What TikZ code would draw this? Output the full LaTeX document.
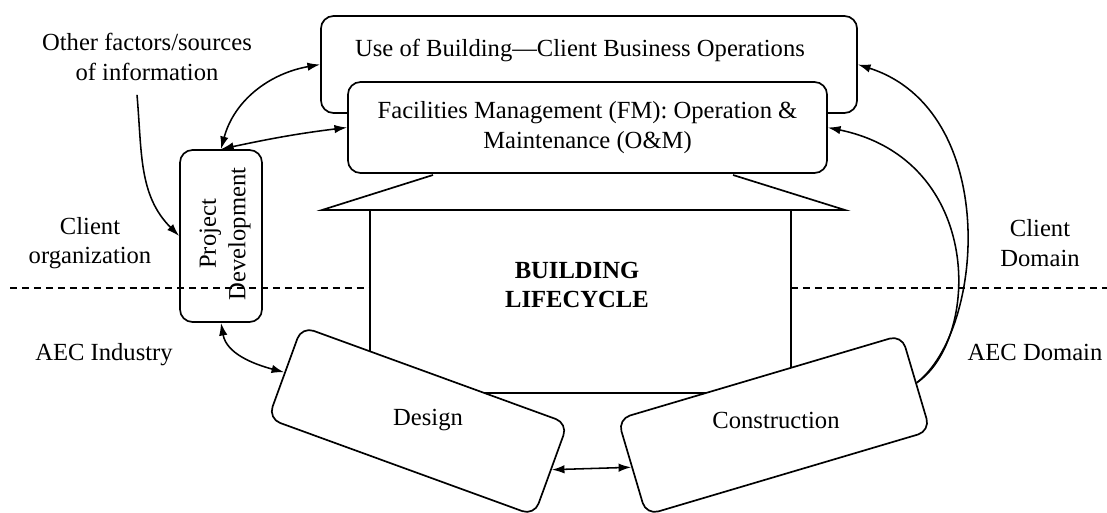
\documentclass[tikz,border=0pt]{standalone}
\usepackage{fontspec}
\setmainfont{Liberation Serif}
\usetikzlibrary{arrows.meta}

\begin{document}
\begin{tikzpicture}[x=0.025cm, y=0.025cm,
  box/.style={draw, line width=1.2pt, rounded corners=9pt, fill=white, inner sep=0pt},
  txt/.style={font=\fontsize{17.5}{21}\selectfont, align=center, inner sep=0pt},
  link/.style={line width=1.1pt, >={Latex[length=9pt,width=6pt]}},
  sep/.style={line width=1.1pt, dash pattern=on 5pt off 3.5pt}]
\useasboundingbox (0,0) rectangle (1107,-513);

% the house
\draw[line width=1.2pt] (433,-175) -- (322,-210) -- (845,-210) -- (733,-175);
\draw[line width=1.2pt] (370,-210) -- (370,-393) -- (791,-393) -- (791,-210);
\node[txt, font=\fontsize{17.5}{21}\selectfont\bfseries] (life) at (577,-285) {BUILDING\\LIFECYCLE};

% client side
\node[box, minimum width=13.4cm, minimum height=2.425cm] (use) at (589,-64.5) {};
\node[txt] (uselbl) at (580,-50) {Use of Building---Client Business Operations};
\node[box, txt, minimum width=11.975cm, minimum height=2.275cm] (fm) at (587.5,-127.5)
  {Facilities Management (FM): Operation \&\\Maintenance (O\&M)};
\node[box, minimum width=2.05cm, minimum height=4.3cm] (pd) at (221,-236) {};
\node[txt, rotate=90] (pdlbl) at (225,-234) {Project\\Development};

% AEC side
\node[box, minimum width=7.075cm, minimum height=2.45cm, rotate=-20] (design) at (418,-421) {};
\node[txt] (designlbl) at (428,-420) {Design};
\node[box, minimum width=7.4cm, minimum height=2.5cm, rotate=16.5] (constr) at (774,-425) {};
\node[txt] (constrlbl) at (776,-420) {Construction};

% side labels
\node[txt] (other) at (147,-57) {Other factors/sources\\of information};
\node[txt] (clientorg) at (90,-243) {Client\\organization};
\node[txt] (aecind) at (104,-355) {AEC Industry};
\node[txt] (clientdom) at (1040,-243) {Client\\Domain};
\node[txt] (aecdom) at (1035,-352) {AEC Domain};

% domain border
\draw[sep] (10,-288) -- (370,-288);
\draw[sep] (791,-288) -- (1107,-288);

% links
\draw[link, ->] ([shift={(-10,-14)}]other.south) to[out=-85, in=135] (pd.west);
\draw[link, <->] (pd.north) to[out=75, in=190] (use.west);
\draw[link, <->] (pd.north) to[out=12, in=187] (fm.west);
\draw[link, <->] (pd.south) to[out=-80, in=165] (design.west);
\draw[link, <->] (design.east) -- (constr.west);
\draw[link, ->] (constr.east) .. controls (985,-330) and (1000,-110) .. (use.east);
\draw[link, ->] (constr.east) .. controls (980,-340) and (985,-160) .. (fm.east);
\end{tikzpicture}
\end{document}
